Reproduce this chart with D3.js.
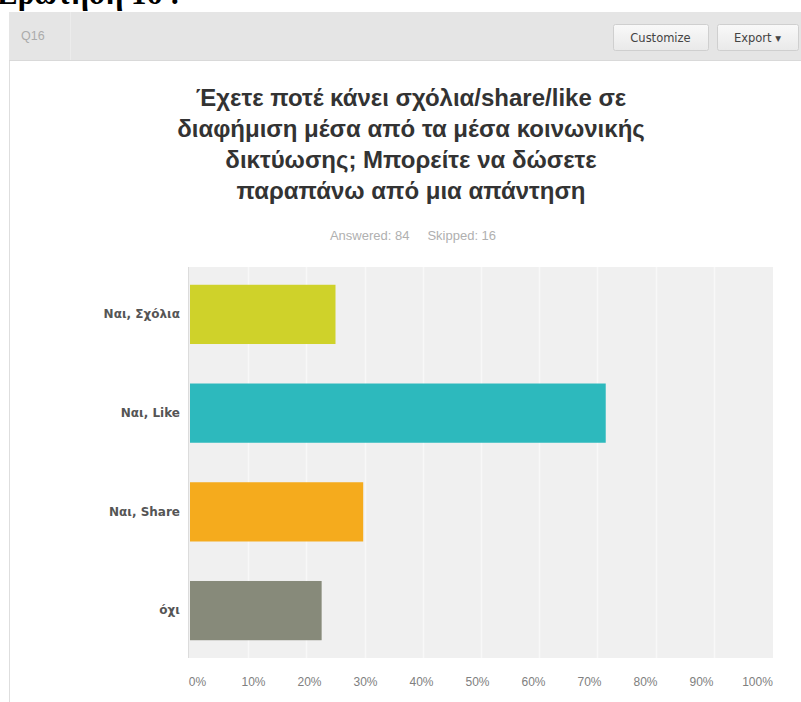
<!DOCTYPE html>
<html>
<head>
<meta charset="utf-8">
<script src="https://cdn.jsdelivr.net/npm/d3@7"></script>
<style>
  html, body { margin: 0; padding: 0; background: #fff; }
  svg { display: block; }
</style>
</head>
<body>
<svg id="chart" width="801" height="702"></svg>
<script>
// Survey question Q16: share of respondents per answer (percent of 84 answered)
const categories = ["Ναι, Σχόλια", "Ναι, Like", "Ναι, Share", "όχι"];
const values = [25.0, 71.43, 29.76, 22.62];
const barColors = ["#cfd22a", "#2db9bd", "#f5ab1d", "#878a7a"];
const tickValues = [0, 10, 20, 30, 40, 50, 60, 70, 80, 90, 100];
const titleLines = [
  "Έχετε ποτέ κάνει σχόλια/share/like σε",
  "διαφήμιση μέσα από τα μέσα κοινωνικής",
  "δικτύωσης; Μπορείτε να δώσετε",
  "παραπάνω από μια απάντηση"
];
const answeredText = "Answered: 84";
const skippedText = "Skipped: 16";

const svg = d3.select("#chart");
const sans = "'Liberation Sans', Arial, sans-serif";

// Document heading above the panel (only its lower edge falls inside the page)
svg.append("text")
  .attr("x", -3).attr("y", 4)
  .attr("font-family", "'Liberation Serif', 'Times New Roman', serif")
  .attr("font-weight", "bold")
  .attr("font-size", 31)
  .attr("fill", "#000")
  .text("Ερώτηση 16 :");

// Panel left border
svg.append("line")
  .attr("x1", 9.5).attr("x2", 9.5).attr("y1", 12).attr("y2", 702)
  .attr("stroke", "#dedede");

// Header strip
svg.append("rect")
  .attr("x", 9).attr("y", 12).attr("width", 792).attr("height", 48)
  .attr("fill", "#e5e5e5");
svg.append("line")
  .attr("x1", 9).attr("x2", 801).attr("y1", 60.5).attr("y2", 60.5)
  .attr("stroke", "#d9d9d9");
svg.append("line")
  .attr("x1", 70.5).attr("x2", 70.5).attr("y1", 12).attr("y2", 60)
  .attr("stroke", "#ececec");
svg.append("text")
  .attr("x", 21).attr("y", 40)
  .attr("font-family", sans).attr("font-size", 12.5)
  .attr("fill", "#ababab")
  .text("Q16");

// Header buttons
const grad = svg.append("defs").append("linearGradient")
  .attr("id", "btnGrad").attr("x1", 0).attr("x2", 0).attr("y1", 0).attr("y2", 1);
grad.append("stop").attr("offset", "0%").attr("stop-color", "#f9f9f9");
grad.append("stop").attr("offset", "100%").attr("stop-color", "#e9e9e9");

const buttons = [
  { label: "Customize", x: 613, w: 95 },
  { label: "Export ▾", x: 717, w: 81 }
];
const btn = svg.selectAll("g.btn").data(buttons).join("g").attr("class", "btn");
btn.append("rect")
  .attr("x", d => d.x + 0.5).attr("y", 24.5)
  .attr("width", d => d.w).attr("height", 26)
  .attr("rx", 2)
  .attr("fill", "url(#btnGrad)")
  .attr("stroke", "#cfcfcf");
btn.append("text")
  .attr("x", d => d.x + d.w / 2).attr("y", 42)
  .attr("text-anchor", "middle")
  .attr("font-family", "'DejaVu Sans', sans-serif").attr("font-size", 11.5)
  .attr("fill", "#444")
  .text(d => d.label);

// Chart title
svg.append("g").selectAll("text")
  .data(titleLines).join("text")
  .attr("x", 411)
  .attr("y", (d, i) => 106 + i * 31)
  .attr("text-anchor", "middle")
  .attr("font-family", sans)
  .attr("font-weight", "bold")
  .attr("font-size", 24)
  .attr("fill", "#333")
  .text(d => d);

// Response counts
const sub = svg.append("text")
  .attr("x", 413).attr("y", 240)
  .attr("text-anchor", "middle")
  .attr("font-family", sans).attr("font-size", 13)
  .attr("fill", "#b0b0b0");
sub.append("tspan").text(answeredText);
sub.append("tspan").attr("dx", 18).text(skippedText);

// Plot geometry
const plot = { left: 188, right: 773, top: 267, bottom: 658 };

const x = d3.scaleLinear().domain([0, 100]).range([190, 772]);
const xLabels = d3.scaleLinear().domain([0, 100]).range([197, 757]);
const y = d3.scaleBand()
  .domain(categories)
  .range([plot.top, plot.bottom])
  .paddingInner(0.4)
  .paddingOuter(0.18);

// Plot background
svg.append("rect")
  .attr("x", plot.left).attr("y", plot.top)
  .attr("width", plot.right - plot.left).attr("height", plot.bottom - plot.top)
  .attr("fill", "#f0f0f0");

// Vertical grid lines
svg.append("g").selectAll("line")
  .data(tickValues.slice(1, -1)).join("line")
  .attr("x1", d => Math.round(x(d)) + 0.5).attr("x2", d => Math.round(x(d)) + 0.5)
  .attr("y1", plot.top).attr("y2", plot.bottom)
  .attr("stroke", "#f8f8f8").attr("stroke-width", 1.5);

// Left axis rule
svg.append("line")
  .attr("x1", plot.left + 0.5).attr("x2", plot.left + 0.5)
  .attr("y1", plot.top).attr("y2", plot.bottom)
  .attr("stroke", "#dcdcdc");

// Bars
svg.append("g").selectAll("rect")
  .data(values).join("rect")
  .attr("x", x(0))
  .attr("y", (d, i) => y(categories[i]))
  .attr("width", d => x(d) - x(0))
  .attr("height", y.bandwidth())
  .attr("fill", (d, i) => barColors[i]);

// Category axis
const yAxis = svg.append("g")
  .attr("transform", `translate(${plot.left - 6},0)`)
  .call(d3.axisLeft(y).tickSize(0).tickPadding(2));
yAxis.select(".domain").remove();
yAxis.selectAll("text")
  .attr("font-family", "'DejaVu Sans', sans-serif").attr("font-size", 12)
  .attr("font-weight", "bold")
  .attr("fill", "#555");

// Percentage axis
const xAxis = svg.append("g")
  .attr("transform", `translate(0,${plot.bottom + 16})`)
  .call(d3.axisBottom(xLabels).tickValues(tickValues).tickSize(0).tickFormat(d => d + "%"));
xAxis.select(".domain").remove();
xAxis.selectAll("text")
  .attr("font-family", sans).attr("font-size", 12)
  .attr("fill", "#808080");
</script>
</body>
</html>
